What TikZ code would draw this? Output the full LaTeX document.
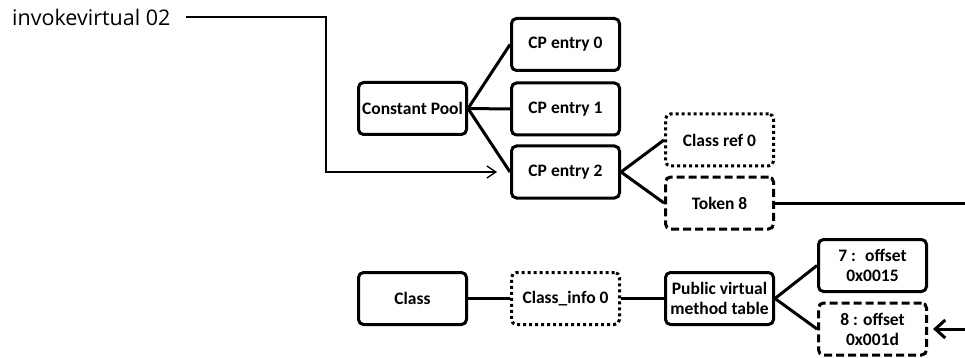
\documentclass[tikz,border=0pt]{standalone}
\usepackage{fontspec}
\setmainfont{Carlito}
\newfontfamily\opensans{Open Sans}
\usepackage{tikz}
\usetikzlibrary{arrows, arrows.meta, positioning, calc}

\tikzset{
  box/.style={shape=rectangle, draw=black, line width=3pt, rounded corners=5pt,
    minimum width=108pt, minimum height=52pt, inner sep=0pt, align=center,
    font=\fontsize{17.5}{20}\selectfont\bfseries},
  dotbox/.style={box, dash pattern=on 3pt off 3pt},
  dashbox/.style={box, dash pattern=on 8pt off 4pt},
  link/.style={line width=3pt},
}

\begin{document}
\begin{tikzpicture}[x=1pt, y=-1pt]
\useasboundingbox (0,0) rectangle (965,358);

  % constant pool side
  \node[box] (CP) at (412.5,108.5) {Constant Pool};
  \node[box] (E0) at (565.5,44.5) {CP entry 0};
  \node[box] (E1) at (565.5,109) {CP entry 1};
  \node[box] (E2) at (565.5,172) {CP entry 2};
  \node[dotbox] (CR) at (719.5,140) {Class ref 0};
  \node[dashbox] (TK) at (719.5,203) {Token 8};
  \path [link](CP.east) edge (E0.west);
  \path [link](CP.east) edge (E1.west);
  \path [link](CP.east) edge (E2.west);
  \path [link](E2.east) edge (CR.west);
  \path [link](E2.east) edge (TK.west);

  % class side
  \node[box] (C) at (412.5,298.5) {Class};
  \node[dotbox] (CI) at (565.5,298.5) {Class\_info 0};
  \node[box] (VT) at (719.5,298.5) {Public virtual\\method table};
  \node[box] (V7) at (872.5,265.5) {7 :~ offset\\0x0015};
  \node[dashbox] (V8) at (872.5,329) {8 : offset\\0x001d};
  \path [link](C.east) edge (CI.west);
  \path [link](CI.east) edge (VT.west);
  \path [link](VT.east) edge (V7.west);
  \path [link](VT.east) edge (V8.west);

  % token goes over to the table entry
  \coordinate (TKout) at (965,203);
  \coordinate (V8in) at (965,329);
  \draw [link](TK.east) -- (TKout);
  \draw [link, -{Straight Barb[length=10pt,width=18pt,line width=3pt]}, shorten >=5pt]
    (V8in) -- (V8.east);

  % the instruction
  \node[anchor=west, inner sep=0pt, font=\opensans\fontsize{21.5}{24}\selectfont] (INV) at (12,17) {invokevirtual 02};
  \coordinate (bend) at (326,17);
  \draw [line width=1.3pt, -{Straight Barb[length=9pt,width=12pt]}, shorten <=15pt, shorten >=13pt]
    (INV.east) -- (bend) |- (E2.west);
\end{tikzpicture}
\end{document}
